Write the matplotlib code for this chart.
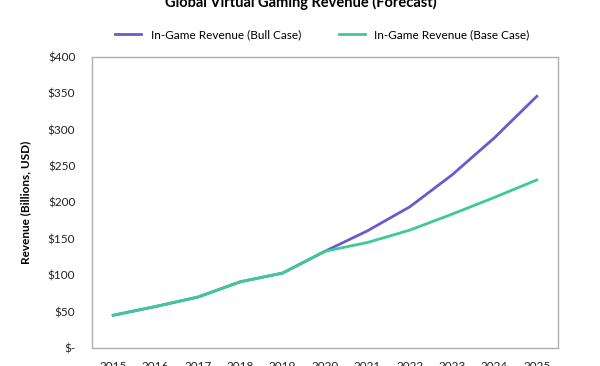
import matplotlib.pyplot as plt

plt.rcParams['font.family'] = ['Lato', 'DejaVu Sans']

years = ['2015', '2016', '2017', '2018', '2019', '2020', '2021', '2022', '2023', '2024', '2025']
bull_case = [45, 57, 70, 91, 103, 133, 161, 194, 238, 289, 346]
base_case = [45, 57, 70, 91, 103, 133, 145, 162, 184, 207, 231]
y_ticks = [0, 50, 100, 150, 200, 250, 300, 350, 400]
y_labels = ['$-', '$50', '$100', '$150', '$200', '$250', '$300', '$350', '$400']

fig = plt.figure(figsize=(6, 3.66), dpi=100)
ax = fig.add_axes([92 / 600, 1 - 348 / 366, 466 / 600, 291 / 366])

x = list(range(len(years)))
ax.plot(x, bull_case, color='#6a5acd', lw=2.0, label='In-Game Revenue (Bull Case)')
ax.plot(x, base_case, color='#3ccb94', lw=2.0, label='In-Game Revenue (Base Case)')

ax.set_xlim(-0.5, len(years) - 0.5)
ax.set_ylim(0, 400)
ax.set_xticks(x)
ax.set_xticklabels(years)
ax.set_yticks(y_ticks)
ax.set_yticklabels(y_labels)
ax.tick_params(length=0, labelsize=8.5, colors='#222222')
ax.tick_params(axis='x', pad=9)
ax.tick_params(axis='y', pad=12)
for s in ax.spines.values():
    s.set_color('#b0b0b0')
    s.set_linewidth(1)

ax.set_ylabel('Revenue (Billions, USD)', fontsize=8.5, fontweight='bold', labelpad=12)

fig.text(0.502, 0.993, 'Global Virtual Gaming Revenue (Forecast)', ha='center', va='center',
         fontsize=10.5, fontweight='bold')
fig.legend(loc='center', bbox_to_anchor=(0.537, 1 - 35 / 366), ncol=2, frameon=False,
           fontsize=8.5, handlelength=2.2, columnspacing=3.2)

fig.savefig('out.png', dpi=100)
